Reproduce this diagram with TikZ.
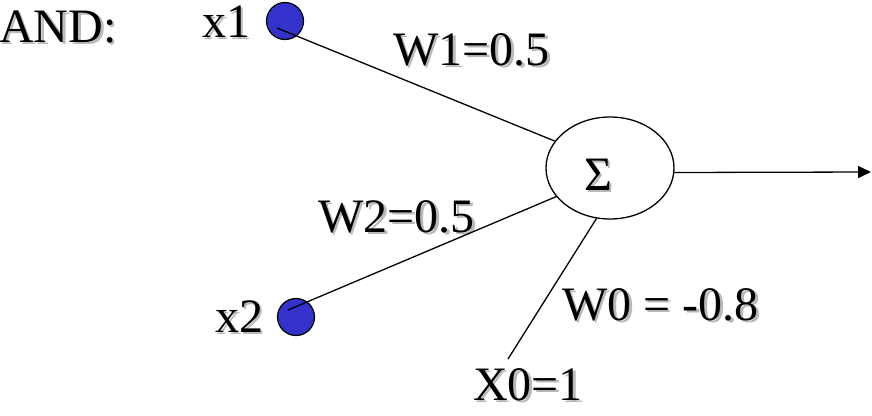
\documentclass[tikz,border=0pt]{standalone}
\usepackage{fontspec}
\setmainfont{Liberation Serif}
\usetikzlibrary{shapes.geometric,arrows.meta}
\definecolor{dotblue}{RGB}{51,51,204}
\definecolor{shade}{RGB}{185,185,185}
\newcommand{\shadowed}[1]{\rlap{\kern2.5pt\raisebox{-2.5pt}{\textcolor{shade}{#1}}}#1}
\tikzset{
  lbl/.style={anchor=base west,inner sep=0pt,font=\fontsize{48}{50}\selectfont},
  dot/.style={circle,draw=black,line width=1.2pt,fill=dotblue,minimum size=37pt,inner sep=0pt},
  wire/.style={line width=1.3pt},
}
\begin{document}
\begin{tikzpicture}[x=1pt,y=-1pt]
\useasboundingbox (0,0) rectangle (872,415);
\node[lbl] (and) at (-1,42) {\shadowed{AND:}};
\node[lbl] (x1l) at (202,37) {\shadowed{x1}};
\node[lbl] (x2l) at (215,332) {\shadowed{x2}};
\node[lbl] (w1) at (393,65) {\shadowed{W1=0.5}};
\node[lbl] (w2) at (318,232) {\shadowed{W2=0.5}};
\node[lbl] (w0) at (562,320) {\shadowed{W0 = -0.8}};
\node[lbl] (x0) at (473,400) {\shadowed{X0=1}};
\node[dot] (x1) at (285,21) {};
\node[dot] (x2) at (296,317) {};
\node[ellipse,draw,line width=1.3pt,minimum width=128pt,minimum height=102pt,inner sep=0pt] (sig) at (610,168) {};
\node[anchor=base,inner sep=0pt,font=\fontsize{48}{50}\selectfont] (sigma) at (598,190) {\shadowed{Σ}};
\coordinate (x1s) at (277,28);
\coordinate (x2s) at (288,310);
\coordinate (x0e) at (508,359);
\coordinate (out) at (871,172);
\draw[wire] (x1s) -- (sig.154);
\draw[wire] (x2s) -- (sig.208);
\draw[wire] (x0e) -- (sig.255);
\draw[wire,-{Triangle[length=13pt,width=12pt]}] (sig.-4) -- (out);
\end{tikzpicture}
\end{document}
